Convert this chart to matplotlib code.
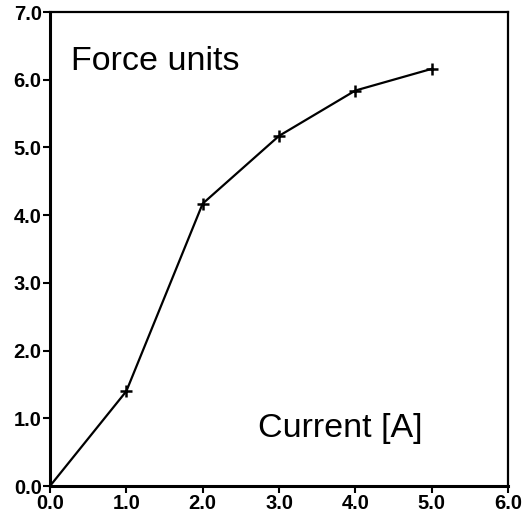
import matplotlib
matplotlib.use("Agg")
import matplotlib.pyplot as plt

# values
current = [0.0, 1.0, 2.0, 3.0, 4.0, 5.0]
force = [0.0, 1.40, 4.17, 5.17, 5.84, 6.16]

x_ticks = [0.0, 1.0, 2.0, 3.0, 4.0, 5.0, 6.0]
y_ticks = [0.0, 1.0, 2.0, 3.0, 4.0, 5.0, 6.0, 7.0]

plt.rcParams['font.family'] = ['Liberation Sans', 'DejaVu Sans']

fig = plt.figure(figsize=(5.29, 5.17), dpi=100)
ax = fig.add_axes([50 / 529, 31 / 517, 458 / 529, 474 / 517])

ax.plot(current, force, color='black', lw=1.6, marker='+', ms=8, mew=1.8)

ax.set_xlim(0, 6)
ax.set_ylim(0, 7)
ax.set_xticks(x_ticks)
ax.set_yticks(y_ticks)
ax.set_xticklabels(["%.1f" % v for v in x_ticks])
ax.set_yticklabels(["%.1f" % v for v in y_ticks])
ax.tick_params(direction='out', length=5, width=1.5, labelsize=14.5, pad=1)
for lbl in ax.get_xticklabels() + ax.get_yticklabels():
    lbl.set_fontweight('bold')

for s in ['left', 'bottom']:
    ax.spines[s].set_linewidth(2.2)
for s in ['top', 'right']:
    ax.spines[s].set_linewidth(1.6)

ax.text(0.28, 6.14, "Force units", fontsize=24.5, ha='left', va='baseline')
ax.text(2.73, 0.72, "Current [A]", fontsize=24.5, ha='left', va='baseline')

fig.savefig("out.png", dpi=100)
